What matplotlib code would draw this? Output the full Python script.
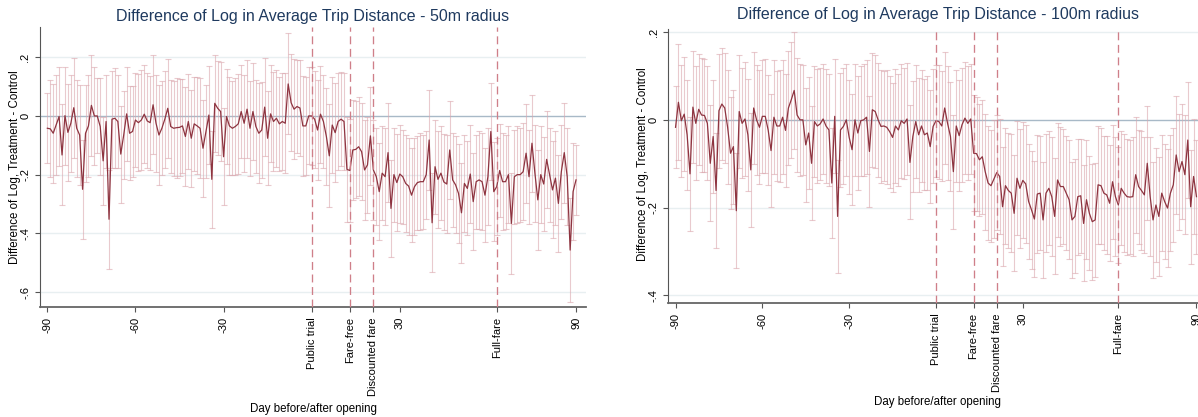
import numpy as np
import matplotlib
matplotlib.use("Agg")
import matplotlib.pyplot as plt

plt.rcParams['font.family'] = ['Liberation Sans', 'DejaVu Sans']

days = np.arange(-90, 91)

# point estimates, 50m radius
est50 = [
    -0.042, -0.044, -0.059, -0.031, -0.002, -0.133, 0.001, -0.056, -0.025, 0.028,
    -0.042, -0.065, -0.25, -0.059, -0.034, 0.036, 0.0, 0.0, -0.036, -0.153,
    -0.019, -0.352, -0.011, -0.008, -0.019, -0.13, -0.065, 0.007, -0.059, -0.053,
    -0.014, -0.023, -0.014, 0.006, -0.017, -0.023, 0.038, -0.025, -0.065, -0.042,
    -0.011, 0.026, -0.036, -0.042, -0.04,
    -0.039, -0.034, -0.07, -0.019, -0.076, -0.027, -0.034, -0.042, -0.11, -0.053,
    0.003, -0.216, 0.043, 0.026, 0.015, -0.139, -0.002, -0.034, -0.042, -0.036,
    -0.027, 0.015, -0.025, 0.023, -0.042, 0.015, -0.036, -0.059, -0.048, 0.03,
    -0.076, 0.007, -0.019, -0.008, -0.027, -0.019, -0.025, 0.109, 0.045, 0.023,
    0.032, 0.027, -0.034, -0.034, 0.0,
    0.0, -0.011, -0.048, 0.006, -0.019, -0.07, -0.136, -0.031, -0.057, -0.019,
    -0.011, -0.019, -0.182, -0.186, -0.116, -0.114, -0.105, -0.122, -0.184, -0.167,
    -0.068, -0.184, -0.207, -0.258, -0.195, -0.207, -0.125, -0.315, -0.2, -0.227,
    -0.198, -0.207, -0.23, -0.239, -0.27, -0.241, -0.227, -0.224, -0.224, -0.2,
    -0.082, -0.364,
    -0.173, -0.216, -0.195, -0.225, -0.232, -0.116, -0.218, -0.235, -0.264, -0.33,
    -0.23, -0.247, -0.198, -0.292, -0.224, -0.218, -0.224, -0.27, -0.207, -0.053,
    -0.258, -0.241, -0.186, -0.224, -0.224, -0.2, -0.366, -0.207, -0.2, -0.2,
    -0.19, -0.127, -0.207, -0.093, -0.195, -0.286, -0.2, -0.232, -0.148, -0.2,
    -0.252, -0.212, -0.298, -0.19, -0.125, -0.207, -0.457, -0.258, -0.218,
]

# half width of the 95% CI, 50m radius
hw50 = [
    0.120, 0.165, 0.168, 0.170, 0.168, 0.172, 0.167, 0.165, 0.165, 0.170,
    0.165, 0.170, 0.168, 0.165, 0.174, 0.172, 0.166, 0.128, 0.165, 0.150,
    0.160, 0.168, 0.165, 0.170, 0.160, 0.165, 0.150, 0.160, 0.160, 0.155,
    0.160, 0.165, 0.170, 0.168, 0.162, 0.160, 0.168, 0.165, 0.170, 0.160,
    0.165, 0.168, 0.160, 0.162, 0.170, 0.165, 0.160, 0.168, 0.162, 0.165,
    0.160, 0.165, 0.170, 0.165, 0.160, 0.167, 0.165, 0.165, 0.160, 0.170,
    0.165, 0.162, 0.168, 0.160, 0.165, 0.170, 0.160, 0.165, 0.168, 0.162,
    0.165, 0.160, 0.170, 0.165, 0.168, 0.160, 0.165, 0.170, 0.165, 0.160,
    0.165, 0.170, 0.172, 0.165, 0.170, 0.160, 0.165, 0.170, 0.168, 0.165,
    0.168, 0.165, 0.170, 0.165, 0.160, 0.165, 0.175, 0.165, 0.168, 0.165,
    0.160, 0.165, 0.178, 0.175, 0.170, 0.165, 0.168, 0.165, 0.170, 0.165,
    0.168, 0.170, 0.165, 0.165, 0.160, 0.165, 0.168, 0.165, 0.160, 0.165,
    0.168, 0.160, 0.165, 0.165, 0.160, 0.165, 0.160, 0.165, 0.160, 0.150,
    0.170, 0.169, 0.160, 0.165, 0.160, 0.165, 0.168, 0.168, 0.160, 0.165,
    0.168, 0.170, 0.165, 0.160, 0.168, 0.165, 0.160, 0.168, 0.165, 0.160,
    0.165, 0.164, 0.168, 0.165, 0.160, 0.165, 0.160, 0.165, 0.172, 0.160,
    0.165, 0.160, 0.165, 0.168, 0.160, 0.165, 0.165, 0.170, 0.165, 0.160,
    0.165, 0.160, 0.165, 0.160, 0.165, 0.160, 0.170, 0.165, 0.176, 0.165,
    0.118,
]

# point estimates, 100m radius
est100 = [
    -0.017, 0.04, -0.002, 0.013, -0.034, -0.123, 0.029, -0.008, 0.024, 0.011,
    0.01, -0.008, -0.099, -0.038, -0.161, 0.021, 0.036, 0.027, -0.017, -0.076,
    -0.061, -0.207, 0.019, -0.008, 0.002, -0.034, -0.114, 0.027, 0.0, -0.017,
    0.008, 0.008, -0.023, -0.07, 0.006, -0.014, -0.014, 0.006, -0.024, 0.027,
    0.046, 0.067, 0.011, 0.0, 0.0,
    -0.057, -0.03, -0.099, -0.004, -0.014, -0.009, 0.002, -0.014, -0.023, -0.144,
    0.008, -0.22, -0.023, -0.015, 0.0, -0.04, -0.068, 0.0, -0.03, -0.002,
    0.0, 0.006, -0.072, 0.023, 0.019, 0.0, -0.015, -0.014, -0.017, -0.027,
    -0.04, -0.014, -0.023, -0.002, -0.008, 0.002, -0.097, -0.038, -0.004, -0.034,
    -0.014, -0.034, -0.03, -0.061, -0.015,
    -0.002, -0.004, -0.014, 0.027, -0.008, -0.038, -0.118, -0.014, -0.036, -0.011,
    0.004, -0.008, 0.002, -0.076, -0.077, -0.091, -0.084, -0.118, -0.144, -0.15,
    -0.135, -0.12, -0.129, -0.198, -0.15, -0.161, -0.167, -0.213, -0.133, -0.156,
    -0.138, -0.146, -0.186, -0.205, -0.226, -0.169, -0.167, -0.228, -0.167, -0.156,
    -0.175, -0.22, -0.137, -0.152, -0.152, -0.167, -0.182, -0.228, -0.22,
    -0.175, -0.173, -0.236, -0.182, -0.213, -0.232, -0.228, -0.148, -0.15, -0.167,
    -0.171, -0.19, -0.141, -0.175, -0.194, -0.156, -0.167, -0.175, -0.176, -0.175,
    -0.125, -0.152, -0.161, -0.171, -0.099, -0.175, -0.228, -0.194, -0.22, -0.167,
    -0.186, -0.201, -0.167, -0.148, -0.08, -0.118, -0.095, -0.125, -0.046, -0.198,
    -0.129, -0.175,
]

hw100 = [
    0.093, 0.132, 0.128, 0.130, 0.125, 0.130, 0.128, 0.130, 0.126, 0.130,
    0.128, 0.130, 0.132, 0.128, 0.132, 0.130, 0.128, 0.126, 0.130, 0.128,
    0.130, 0.131, 0.128, 0.125, 0.130, 0.128, 0.130, 0.128, 0.126, 0.130,
    0.128, 0.130, 0.125, 0.128, 0.130, 0.126, 0.128, 0.130, 0.128, 0.130,
    0.132, 0.133, 0.130, 0.128, 0.126, 0.130, 0.128, 0.130, 0.126, 0.130,
    0.128, 0.125, 0.130, 0.128, 0.126, 0.130, 0.128, 0.130, 0.132, 0.128,
    0.130, 0.126, 0.128, 0.130, 0.125, 0.128, 0.130, 0.126, 0.130, 0.128,
    0.130, 0.128, 0.126, 0.130, 0.128, 0.125, 0.130, 0.128, 0.130, 0.126,
    0.128, 0.130, 0.126, 0.128, 0.130, 0.128, 0.126, 0.130, 0.128, 0.130,
    0.128, 0.130, 0.126, 0.128, 0.130, 0.125, 0.130, 0.128, 0.126, 0.130,
    0.128, 0.130, 0.126, 0.132, 0.130, 0.128, 0.130, 0.132, 0.130, 0.128,
    0.135, 0.132, 0.130, 0.135, 0.132, 0.130, 0.135, 0.132, 0.130, 0.135,
    0.132, 0.135, 0.130, 0.135, 0.132, 0.135, 0.130, 0.132, 0.135, 0.130,
    0.135, 0.132, 0.130, 0.135, 0.132, 0.130, 0.135, 0.132, 0.130, 0.132,
    0.130, 0.132, 0.135, 0.130, 0.132, 0.130, 0.135, 0.132, 0.130, 0.135,
    0.132, 0.130, 0.135, 0.132, 0.130, 0.135, 0.132, 0.130, 0.135, 0.132,
    0.130, 0.135, 0.132, 0.130, 0.135, 0.132, 0.130, 0.135, 0.132, 0.130,
    0.135, 0.132, 0.130, 0.135, 0.132, 0.130, 0.135, 0.133, 0.130, 0.132,
    0.130,
]

event_days = [0, 13, 21, 63]
xticks = [-90, -60, -30, 0, 13, 21, 30, 63, 90]
xlabels = ['-90', '-60', '-30', 'Public trial', 'Fare-free', 'Discounted fare', '30', 'Full-fare', '90']

LINE = '#8e3440'
CI = '#dba7ae'
VLINE = '#cf7f89'
GRID = '#e8eff1'
ZERO = '#a8b9c7'
TITLE = '#1f3a5f'


def panel(ax, est, hw, yticks, ylabels, ylim):
    est = np.array(est)
    hw = np.array(hw)
    for t in yticks:
        if t != 0:
            ax.axhline(t, color=GRID, lw=1.0, zorder=0)
    ax.axhline(0, color=ZERO, lw=1.0, zorder=1)
    ax.errorbar(days, est, yerr=hw, fmt='none', ecolor=CI, elinewidth=0.8,
                capsize=2.2, capthick=0.8, alpha=0.6, zorder=2)
    ax.plot(days, est, color=LINE, lw=0.9, zorder=3)
    for d in event_days:
        ax.axvline(d, color=VLINE, lw=0.95, ls=(0, (6, 3.5)), zorder=4)
    ax.set_xlim(-92.5, 93.4)
    ax.set_ylim(*ylim)
    ax.set_xticks(xticks, xlabels, rotation=90, fontsize=8)
    ax.set_yticks(yticks, ylabels, fontsize=8)
    ax.tick_params(axis='y', labelrotation=90, length=3.5, color='#555555')
    ax.tick_params(axis='x', length=3.5, color='#555555')
    for lab in ax.get_yticklabels():
        lab.set_va('center')
    for s in ['top', 'right']:
        ax.spines[s].set_visible(False)
    ax.spines['left'].set_color('#555555')
    ax.spines['bottom'].set_color('#666666')
    ax.spines['bottom'].set_linewidth(1.3)


fig = plt.figure(figsize=(11.98, 4.17), dpi=100)

ax1 = fig.add_axes([40 / 1198, 1 - 307.3 / 417, 546 / 1198, 280.6 / 417])
panel(ax1, est50, hw50, [-0.6, -0.4, -0.2, 0, 0.2], ['-.6', '-.4', '-.2', '0', '.2'], (-0.652, 0.304))

ax2 = fig.add_axes([668.3 / 1198, 1 - 303.3 / 417, 538 / 1198, 274.3 / 417])
panel(ax2, est100, hw100, [-0.4, -0.2, 0, 0.2], ['-.4', '-.2', '0', '.2'], (-0.418, 0.207))

fig.text(313 / 1198, 1 - 16 / 417, 'Difference of Log in Average Trip Distance - 50m radius',
         ha='center', va='center', fontsize=11.5, color=TITLE)
fig.text(938 / 1198, 1 - 15 / 417, 'Difference of Log in Average Trip Distance - 100m radius',
         ha='center', va='center', fontsize=11.5, color=TITLE)
fig.text(15 / 1198, 1 - 167 / 417, 'Difference of Log, Treatment - Control',
         ha='center', va='center', rotation=90, fontsize=8.3)
fig.text(643 / 1198, 1 - 164 / 417, 'Difference of Log, Treatment - Control',
         ha='center', va='center', rotation=90, fontsize=8.3)
fig.text(313 / 1198, 1 - 409 / 417, 'Day before/after opening',
         ha='center', va='center', fontsize=8.3)
fig.text(938 / 1198, 1 - 402 / 417, 'Day before/after opening',
         ha='center', va='center', fontsize=8.3)

fig.savefig('out.png', dpi=100)
